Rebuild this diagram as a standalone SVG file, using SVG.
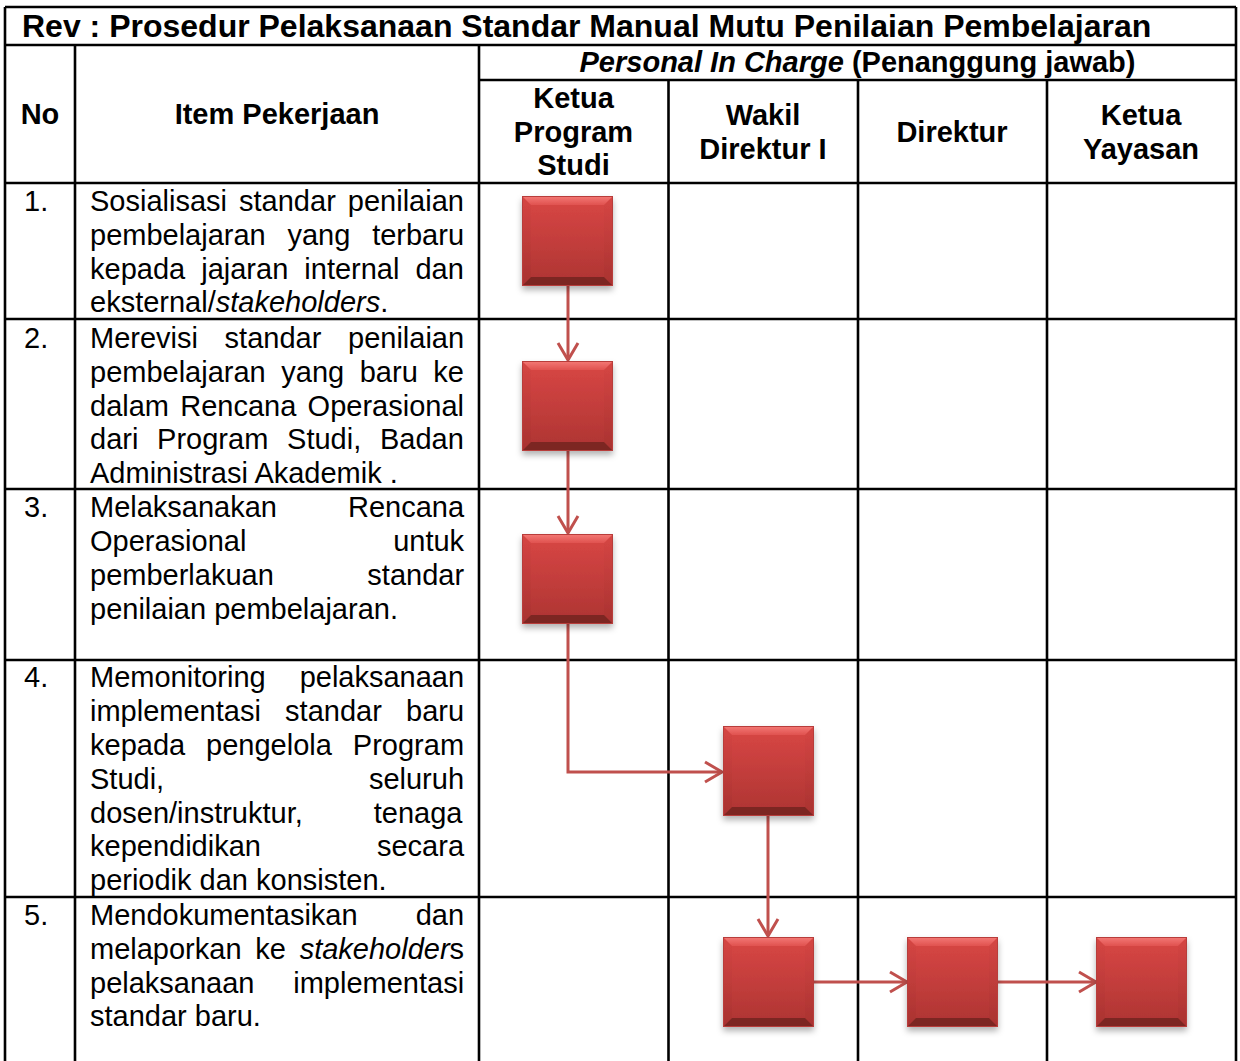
<svg xmlns="http://www.w3.org/2000/svg" xmlns:xlink="http://www.w3.org/1999/xlink" width="1240" height="1061" viewBox="0 0 1240 1061">
<style>
  .grid { stroke: #000; stroke-width: 2.6; fill: none; }
  .t { font-family: "Liberation Sans", Arial, sans-serif; font-size: 29px; fill: #000; }
  .b { font-weight: bold; }
  .title { font-family: "Liberation Sans", Arial, sans-serif; font-size: 32px; font-weight: bold; fill: #000; }
  .c { text-anchor: middle; }
  .conn { stroke: #c0504d; stroke-width: 3; fill: none; }
</style>
<defs>
  <linearGradient id="face" x1="0" y1="0" x2="0" y2="1">
    <stop offset="0" stop-color="#d94745"/>
    <stop offset="1" stop-color="#ad3432"/>
  </linearGradient>
  <linearGradient id="side" x1="0" y1="0" x2="0" y2="1">
    <stop offset="0" stop-color="#d64644"/>
    <stop offset="1" stop-color="#a83230"/>
  </linearGradient>
  <linearGradient id="topbev" x1="0" y1="0" x2="0" y2="1">
    <stop offset="0" stop-color="#f47a76"/>
    <stop offset="1" stop-color="#e0524f"/>
  </linearGradient>
  <filter id="shadow" x="-20%" y="-20%" width="140%" height="150%">
    <feDropShadow dx="0" dy="4" stdDeviation="3" flood-color="#000" flood-opacity="0.3"/>
  </filter>
  <g id="box">
    <rect x="0" y="0" width="91" height="90" fill="url(#face)"/>
    <polygon points="0,0 9,9 9,81 0,90" fill="url(#side)"/>
    <polygon points="91,0 91,90 82,81 82,9" fill="url(#side)" opacity="0.95"/>
    <polygon points="0,0 91,0 82,9 9,9" fill="url(#topbev)"/>
    <polygon points="0,90 9,81 82,81 91,90" fill="#7c2624"/>
    <rect x="0.5" y="0.5" width="90" height="89" fill="none" stroke="#b83c3a" stroke-width="1"/>
  </g>
  <marker id="arr" markerUnits="userSpaceOnUse" markerWidth="24" markerHeight="24" viewBox="-20 -12 22 24" refX="0" refY="0" orient="auto">
    <path d="M-17,-10 L0,0 L-17,10" fill="none" stroke="#c0504d" stroke-width="3"/>
  </marker>
</defs>

<rect x="0" y="0" width="1240" height="1061" fill="#fff"/>

<g id="table">
  <line class="grid" x1="5" y1="7" x2="1236" y2="7"/>
  <line class="grid" x1="5" y1="7" x2="5" y2="1061"/>
  <line class="grid" x1="1236" y1="7" x2="1236" y2="1061"/>
  <line class="grid" x1="5" y1="45" x2="1236" y2="45"/>
  <line class="grid" x1="479" y1="80" x2="1236" y2="80"/>
  <line class="grid" x1="5" y1="183" x2="1236" y2="183"/>
  <line class="grid" x1="5" y1="319" x2="1236" y2="319"/>
  <line class="grid" x1="5" y1="489" x2="1236" y2="489"/>
  <line class="grid" x1="5" y1="660" x2="1236" y2="660"/>
  <line class="grid" x1="5" y1="897" x2="1236" y2="897"/>
  <line class="grid" x1="75" y1="45" x2="75" y2="1061"/>
  <line class="grid" x1="479" y1="45" x2="479" y2="1061"/>
  <line class="grid" x1="668.5" y1="80" x2="668.5" y2="1061"/>
  <line class="grid" x1="858" y1="80" x2="858" y2="1061"/>
  <line class="grid" x1="1047" y1="80" x2="1047" y2="1061"/>
</g>

<g id="header">
  <text class="title" x="22" y="37">Rev : Prosedur Pelaksanaan Standar Manual Mutu Penilaian Pembelajaran</text>
  <text class="t b c" x="857.5" y="72"><tspan font-style="italic">Personal In Charge</tspan> (Penanggung jawab)</text>
  <text class="t b c" x="40" y="124">No</text>
  <text class="t b c" x="277" y="124">Item Pekerjaan</text>
  <text class="t b c" x="573.5" y="108">Ketua</text>
  <text class="t b c" x="573.5" y="142">Program</text>
  <text class="t b c" x="573.5" y="175">Studi</text>
  <text class="t b c" x="763" y="125">Wakil</text>
  <text class="t b c" x="763" y="159">Direktur I</text>
  <text class="t b c" x="952" y="142">Direktur</text>
  <text class="t b c" x="1141" y="125">Ketua</text>
  <text class="t b c" x="1141" y="159">Yayasan</text>
</g>

<g id="rows">
  <text class="t" x="24" y="211">1.</text>
  <text class="t" x="90" y="211" word-spacing="4">Sosialisasi standar penilaian</text>
  <text class="t" x="90" y="245" word-spacing="13.7">pembelajaran yang terbaru</text>
  <text class="t" x="90" y="279" word-spacing="8">kepada jajaran internal dan</text>
  <text class="t" x="90" y="312">eksternal/<tspan font-style="italic">stakeholders</tspan>.</text>

  <text class="t" x="24" y="348">2.</text>
  <text class="t" x="90" y="348" word-spacing="18.6">Merevisi standar penilaian</text>
  <text class="t" x="90" y="382" word-spacing="7.5">pembelajaran yang baru ke</text>
  <text class="t" x="90" y="416" word-spacing="3.2">dalam Rencana Operasional</text>
  <text class="t" x="90" y="449" word-spacing="10.7">dari Program Studi, Badan</text>
  <text class="t" x="90" y="483">Administrasi Akademik .</text>

  <text class="t" x="24" y="517">3.</text>
  <text class="t" x="90" y="517" word-spacing="62.9">Melaksanakan Rencana</text>
  <text class="t" x="90" y="551" word-spacing="138.7">Operasional untuk</text>
  <text class="t" x="90" y="585" word-spacing="85.5">pemberlakuan standar</text>
  <text class="t" x="90" y="619">penilaian pembelajaran.</text>

  <text class="t" x="24" y="687">4.</text>
  <text class="t" x="90" y="687" word-spacing="25.9">Memonitoring pelaksanaan</text>
  <text class="t" x="90" y="721" word-spacing="16.2">implementasi standar baru</text>
  <text class="t" x="90" y="755" word-spacing="12.9">kepada pengelola Program</text>
  <text class="t" x="90" y="789" word-spacing="196.7">Studi, seluruh</text>
  <text class="t" x="90" y="823" word-spacing="62.9">dosen/instruktur, tenaga</text>
  <text class="t" x="90" y="856" word-spacing="108">kependidikan secara</text>
  <text class="t" x="90" y="890">periodik dan konsisten.</text>

  <text class="t" x="24" y="925">5.</text>
  <text class="t" x="90" y="925" word-spacing="50">Mendokumentasikan dan</text>
  <text class="t" x="90" y="959" word-spacing="5.7">melaporkan ke <tspan font-style="italic">stakeholder</tspan>s</text>
  <text class="t" x="90" y="993" word-spacing="30.7">pelaksanaan implementasi</text>
  <text class="t" x="90" y="1026">standar baru.</text>
</g>

<g id="connectors">
  <line class="conn" x1="568" y1="286" x2="568" y2="360" marker-end="url(#arr)"/>
  <line class="conn" x1="568" y1="451" x2="568" y2="533" marker-end="url(#arr)"/>
  <polyline class="conn" points="568,624 568,772 722,772" marker-end="url(#arr)"/>
  <line class="conn" x1="768" y1="816" x2="768" y2="936" marker-end="url(#arr)"/>
  <line class="conn" x1="814" y1="982" x2="907" y2="982" marker-end="url(#arr)"/>
  <line class="conn" x1="998" y1="982" x2="1096" y2="982" marker-end="url(#arr)"/>
</g>

<g id="node1" filter="url(#shadow)"><use xlink:href="#box" x="522" y="196"/></g>
<g id="node2" filter="url(#shadow)"><use xlink:href="#box" x="522" y="361"/></g>
<g id="node3" filter="url(#shadow)"><use xlink:href="#box" x="522" y="534"/></g>
<g id="node4" filter="url(#shadow)"><use xlink:href="#box" x="723" y="726"/></g>
<g id="node5" filter="url(#shadow)"><use xlink:href="#box" x="723" y="937"/></g>
<g id="node6" filter="url(#shadow)"><use xlink:href="#box" x="907" y="937"/></g>
<g id="node7" filter="url(#shadow)"><use xlink:href="#box" x="1096" y="937"/></g>
</svg>
